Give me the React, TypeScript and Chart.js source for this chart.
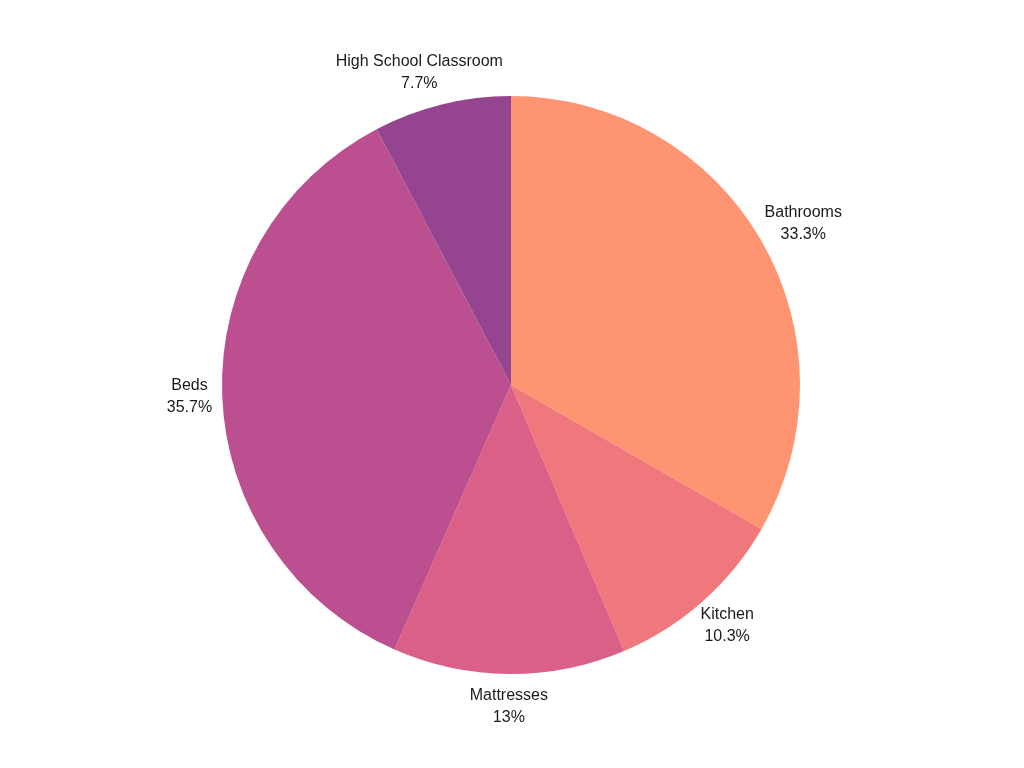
import React, { useEffect, useRef } from "react";
import { Chart, registerables } from "chart.js";

Chart.register(...registerables);

const categories = ["Bathrooms", "Kitchen", "Mattresses", "Beds", "High School Classroom"];
const values = [33.3, 10.3, 13, 35.7, 7.7];
const percentLabels = ["33.3%", "10.3%", "13%", "35.7%", "7.7%"];
const colors = ["#FF9473", "#F0787C", "#DB6087", "#BB4F8F", "#95458F"];

const FONT = "16px 'Liberation Sans', Arial, sans-serif";
const LINE_H = 22;

const outsideLabels = {
  id: "outsideLabels",
  afterDatasetsDraw(chart: any) {
    const ctx = chart.ctx;
    const meta = chart.getDatasetMeta(0);
    ctx.save();
    ctx.font = FONT;
    ctx.fillStyle = "#1a1a1a";
    ctx.textAlign = "center";
    ctx.textBaseline = "middle";
    meta.data.forEach((arc: any, i: number) => {
      const { x, y, startAngle, endAngle, outerRadius } = arc.getProps(
        ["x", "y", "startAngle", "endAngle", "outerRadius"],
        true
      );
      const mid = (startAngle + endAngle) / 2;
      const cx = Math.cos(mid);
      const cy = Math.sin(mid);
      const lines = [categories[i], percentLabels[i]];
      const w = Math.max(...lines.map((l) => ctx.measureText(l).width));
      const h = LINE_H * 2 + 2;
      const ra = outerRadius + 10;
      const bx = x + ra * cx + (cx * w) / 2;
      const by = y + ra * cy + (cy * h) / 2;
      ctx.fillText(lines[0], bx, by - LINE_H / 2);
      ctx.fillText(lines[1], bx, by + LINE_H / 2);
    });
    ctx.restore();
  },
};

export default function App() {
  const ref = useRef<HTMLCanvasElement | null>(null);
  useEffect(() => {
    if (!ref.current) return;
    const chart = new Chart(ref.current, {
      type: "pie",
      data: {
        labels: categories,
        datasets: [
          {
            data: values,
            backgroundColor: colors,
            borderWidth: 0,
          },
        ],
      },
      options: {
        responsive: false,
        animation: false,
        layout: { padding: { top: 96, bottom: 94, left: 222, right: 224 } },
        plugins: {
          legend: { display: false },
          tooltip: { enabled: false },
        },
      },
      plugins: [outsideLabels],
    });
    return () => chart.destroy();
  }, []);
  return (
    <div style={{ position: "fixed", left: 0, top: 0, width: 1024, height: 768, background: "#fff" }}>
      <canvas ref={ref} width={1024} height={768} style={{ width: 1024, height: 768, display: "block" }} />
    </div>
  );
}
